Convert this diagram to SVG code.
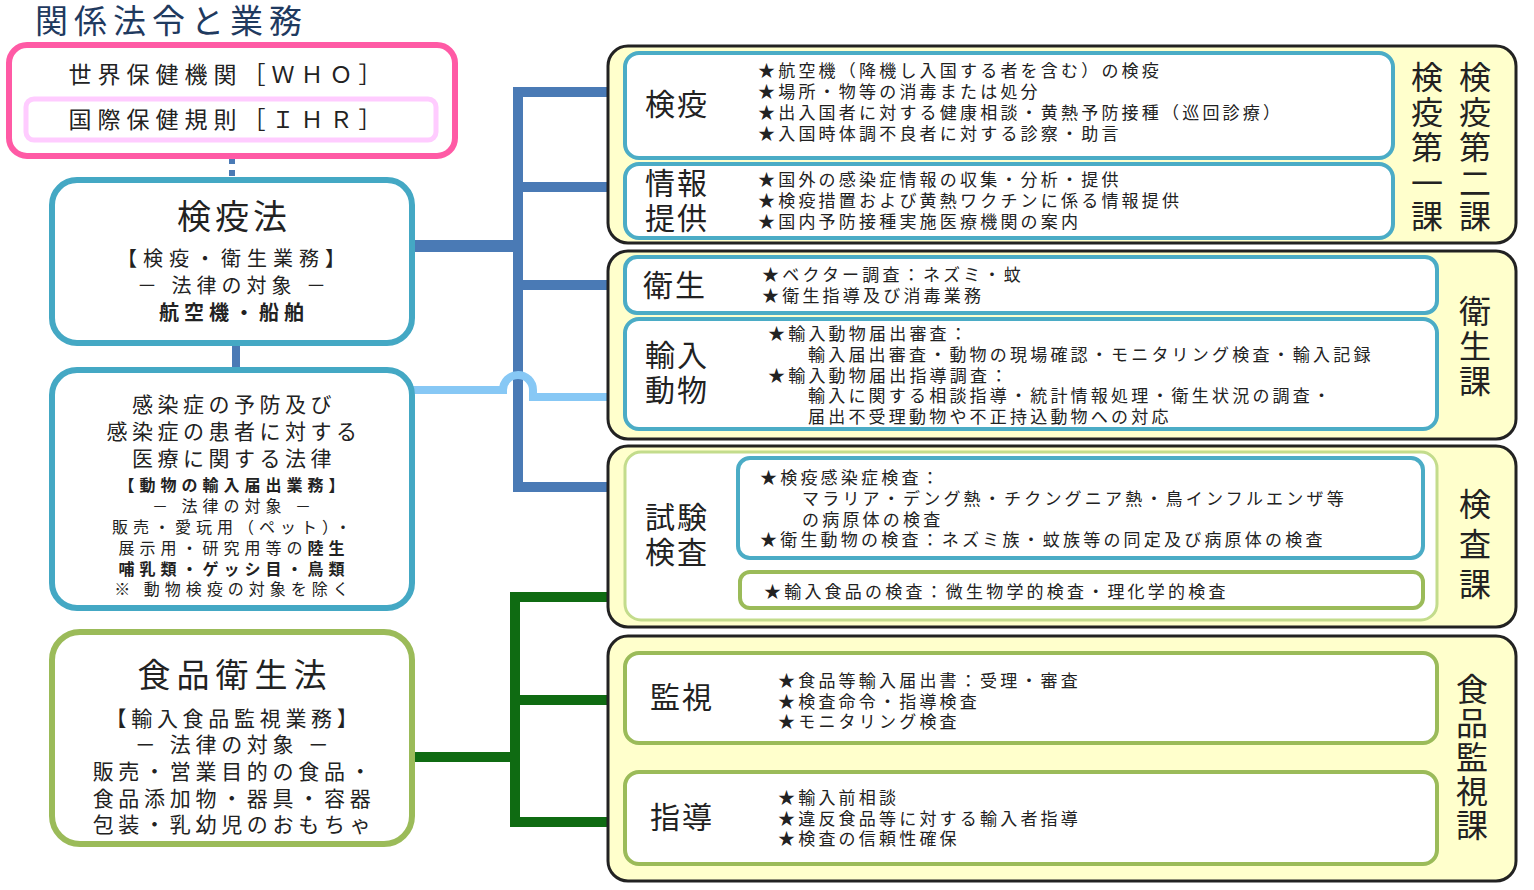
<svg xmlns="http://www.w3.org/2000/svg" width="1534" height="890" viewBox="0 0 1534 890">
<style>
text{font-family:"Noto Sans CJK JP","Noto Sans",sans-serif;fill:#222}
.c{text-anchor:middle}
.b{font-size:17px;letter-spacing:3.2px}
.lab{font-size:30px;letter-spacing:2px}
.v{font-size:32px;text-anchor:middle}
.grp{fill:#ffffcc;stroke:#222;stroke-width:3}
.bl{fill:#fff;stroke:#4bacc6;stroke-width:4}
.gr{fill:#fff;stroke:#9bbb59;stroke-width:4}
.law{fill:#fff;stroke-width:6}
</style>
<rect width="1534" height="890" fill="#fff"/>
<text x="35" y="33" style="font-size:33px;letter-spacing:6px;fill:#1f3a5f">関係法令と業務</text>

<g id="connectors" fill="none">
<line x1="232" y1="158" x2="232" y2="180" stroke="#4a7ab5" stroke-width="6" stroke-dasharray="6,6"/>
<line x1="236" y1="343" x2="236" y2="370" stroke="#4a7ab5" stroke-width="8"/>
<line x1="412" y1="246" x2="518" y2="246" stroke="#4a7ab5" stroke-width="12"/>
<path d="M518 87 V492 M513 92 H625 M513 187 H625 M513 285 H625 M513 487 H738" stroke="#4a7ab5" stroke-width="10"/>
<path d="M412 390 H503 A15 15 0 0 1 533 390 V397 H625" stroke="#87c8f5" stroke-width="8"/>
<line x1="412" y1="757" x2="515" y2="757" stroke="#0f6b12" stroke-width="10"/>
<path d="M515 592 V827 M510 597 H740 M510 700 H625 M510 822 H625" stroke="#0f6b12" stroke-width="10"/>
</g>

<g id="who">
<rect x="9" y="45" width="446" height="111" rx="18" fill="#fff" stroke="#ff5aa5" stroke-width="6"/>
<rect x="26" y="99" width="410" height="41" rx="8" fill="#fff" stroke="#ffccff" stroke-width="5"/>
<text x="228" y="83" class="c" style="font-size:23px;letter-spacing:6px">世界保健機関［ＷＨＯ］</text>
<text x="228" y="128" class="c" style="font-size:23px;letter-spacing:6px">国際保健規則［ＩＨＲ］</text>
</g>

<g id="kenekiho">
<rect x="52" y="180" width="360" height="163" rx="25" class="law" stroke="#44a8c4"/>
<text x="234" y="229" class="c" style="font-size:34px;letter-spacing:4px">検疫法</text>
<text x="234" y="266" class="c" style="font-size:20px;letter-spacing:6px">【検疫・衛生業務】</text>
<text x="234" y="293" class="c" style="font-size:20px;letter-spacing:5px">－ 法律の対象 －</text>
<text x="234" y="320" class="c" style="font-size:20px;letter-spacing:5px;font-weight:bold">航空機・船舶</text>
</g>

<g id="kansenshoho">
<rect x="52" y="370" width="360" height="238" rx="25" class="law" stroke="#44a8c4"/>
<g style="font-size:21px;letter-spacing:4.5px">
<text x="234" y="412" class="c">感染症の予防及び</text>
<text x="234" y="439" class="c">感染症の患者に対する</text>
<text x="234" y="466" class="c">医療に関する法律</text>
</g>
<g style="font-size:16px;letter-spacing:5px">
<text x="234" y="491" class="c" font-weight="bold">【動物の輸入届出業務】</text>
<text x="234" y="512" class="c">－ 法律の対象 －</text>
<text x="234" y="533" class="c">販売・愛玩用（ペット）・</text>
<text x="234" y="554" class="c">展示用・研究用等の<tspan font-weight="bold">陸生</tspan></text>
<text x="234" y="575" class="c" font-weight="bold">哺乳類・ゲッシ目・鳥類</text>
<text x="234" y="595" class="c">※ 動物検疫の対象を除く</text>
</g>
</g>

<g id="shokuhineiseiho">
<rect x="52" y="632" width="360" height="212" rx="28" class="law" stroke="#9bbb59"/>
<text x="235" y="687" class="c" style="font-size:33px;letter-spacing:6px">食品衛生法</text>
<g style="font-size:21px;letter-spacing:4.7px">
<text x="234" y="726" class="c">【輸入食品監視業務】</text>
<text x="234" y="752" class="c">－ 法律の対象 －</text>
<text x="234" y="779" class="c">販売・営業目的の食品・</text>
<text x="234" y="806" class="c">食品添加物・器具・容器</text>
<text x="234" y="832" class="c">包装・乳幼児のおもちゃ</text>
</g>
</g>

<g id="ken-eki-ka">
<rect x="608" y="46" width="908" height="197" rx="20" class="grp"/>
<rect x="625" y="53" width="768" height="105" rx="14" class="bl"/>
<rect x="625" y="164" width="768" height="74" rx="14" class="bl"/>
<text x="645" y="115" class="lab">検疫</text>
<text x="645" y="194" class="lab">情報</text>
<text x="645" y="229" class="lab">提供</text>
<text x="758" y="77" class="b">★航空機（降機し入国する者を含む）の検疫</text>
<text x="758" y="98" class="b">★場所・物等の消毒または処分</text>
<text x="758" y="119" class="b">★出入国者に対する健康相談・黄熱予防接種（巡回診療）</text>
<text x="758" y="140" class="b">★入国時体調不良者に対する診察・助言</text>
<text x="758" y="186" class="b">★国外の感染症情報の収集・分析・提供</text>
<text x="758" y="207" class="b">★検疫措置および黄熱ワクチンに係る情報提供</text>
<text x="758" y="228" class="b">★国内予防接種実施医療機関の案内</text>
<text class="v" x="1427" y="89">検</text><text class="v" x="1427" y="124">疫</text><text class="v" x="1427" y="159">第</text><text class="v" x="1427" y="195">一</text><text class="v" x="1427" y="228">課</text>
<text class="v" x="1475" y="89">検</text><text class="v" x="1475" y="124">疫</text><text class="v" x="1475" y="159">第</text><text class="v" x="1475" y="195">二</text><text class="v" x="1475" y="228">課</text>
</g>

<g id="eisei-ka">
<rect x="608" y="251" width="908" height="188" rx="20" class="grp"/>
<rect x="625" y="257" width="812" height="56" rx="12" class="bl"/>
<rect x="625" y="319" width="812" height="110" rx="14" class="bl"/>
<text x="643" y="296" class="lab">衛生</text>
<text x="645" y="366" class="lab">輸入</text>
<text x="645" y="401" class="lab">動物</text>
<text x="762" y="281" class="b">★ベクター調査：ネズミ・蚊</text>
<text x="762" y="302" class="b">★衛生指導及び消毒業務</text>
<text x="768" y="340" class="b">★輸入動物届出審査：</text>
<text x="808" y="361" class="b">輸入届出審査・動物の現場確認・モニタリング検査・輸入記録</text>
<text x="768" y="382" class="b">★輸入動物届出指導調査：</text>
<text x="808" y="402" class="b">輸入に関する相談指導・統計情報処理・衛生状況の調査・</text>
<text x="808" y="423" class="b">届出不受理動物や不正持込動物への対応</text>
<text class="v" x="1475" y="323">衛</text><text class="v" x="1475" y="358">生</text><text class="v" x="1475" y="393">課</text>
</g>

<g id="kensa-ka">
<rect x="608" y="446" width="908" height="181" rx="20" class="grp"/>
<rect x="625" y="452" width="812" height="168" rx="16" fill="#fff" stroke="#c3dc8c" stroke-width="3"/>
<rect x="738" y="458" width="685" height="100" rx="12" class="bl"/>
<rect x="740" y="572" width="683" height="36" rx="10" class="gr"/>
<text x="645" y="528" class="lab">試験</text>
<text x="645" y="563" class="lab">検査</text>
<text x="760" y="484" class="b">★検疫感染症検査：</text>
<text x="802" y="505" class="b">マラリア・デング熱・チクングニア熱・鳥インフルエンザ等</text>
<text x="802" y="526" class="b">の病原体の検査</text>
<text x="760" y="546" class="b">★衛生動物の検査：ネズミ族・蚊族等の同定及び病原体の検査</text>
<text x="764" y="598" class="b">★輸入食品の検査：微生物学的検査・理化学的検査</text>
<text class="v" x="1475" y="516">検</text><text class="v" x="1475" y="556">査</text><text class="v" x="1475" y="596">課</text>
</g>

<g id="shokuhin-kanshi-ka">
<rect x="608" y="636" width="908" height="245" rx="20" class="grp"/>
<rect x="625" y="653" width="812" height="90" rx="14" class="gr"/>
<rect x="625" y="772" width="812" height="92" rx="14" class="gr"/>
<text x="650" y="708" class="lab">監視</text>
<text x="650" y="828" class="lab">指導</text>
<text x="778" y="687" class="b">★食品等輸入届出書：受理・審査</text>
<text x="778" y="708" class="b">★検査命令・指導検査</text>
<text x="778" y="728" class="b">★モニタリング検査</text>
<text x="778" y="804" class="b">★輸入前相談</text>
<text x="778" y="825" class="b">★違反食品等に対する輸入者指導</text>
<text x="778" y="845" class="b">★検査の信頼性確保</text>
<text class="v" x="1472" y="701">食</text><text class="v" x="1472" y="735">品</text><text class="v" x="1472" y="769">監</text><text class="v" x="1472" y="803">視</text><text class="v" x="1472" y="837">課</text>
</g>
</svg>
